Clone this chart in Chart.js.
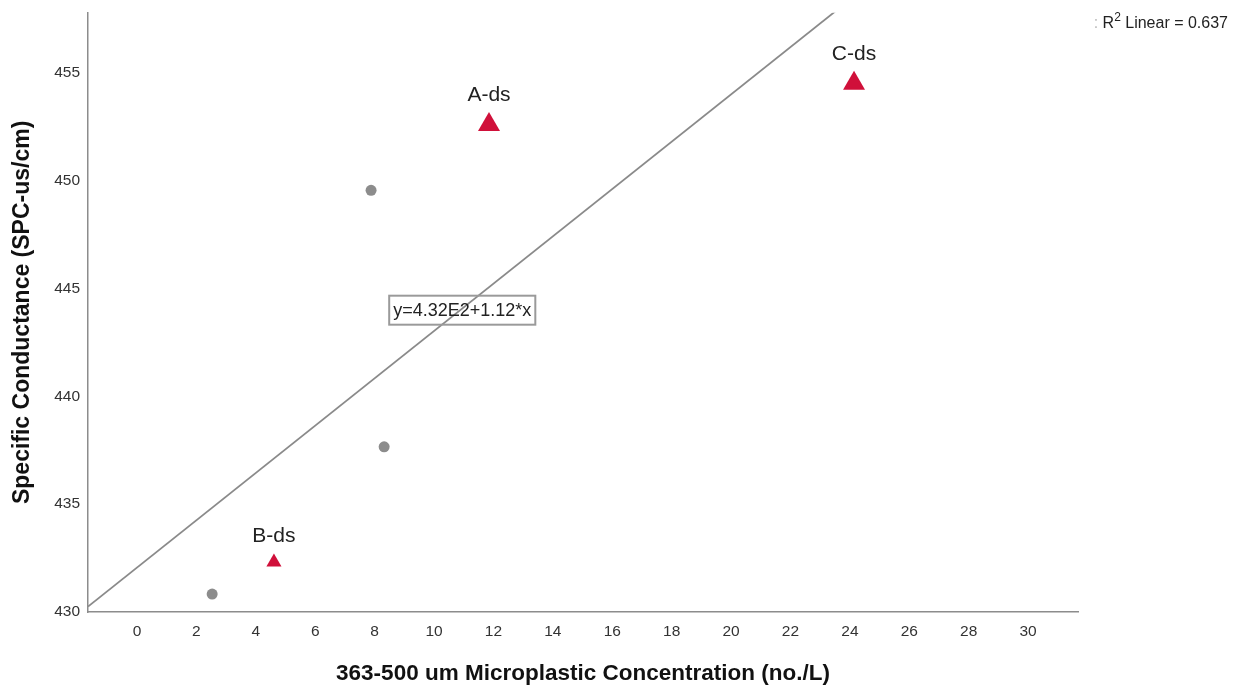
<!DOCTYPE html>
<html>
<head>
<meta charset="utf-8">
<script src="https://cdn.jsdelivr.net/npm/chart.js@4.4.1/dist/chart.umd.min.js"></script>
<style>
  body { margin: 0; background: #fff; }
  #wrap { width: 1240px; height: 688px; position: relative; }
</style>
</head>
<body>
<div id="wrap"><canvas id="scatter"></canvas></div>
<script>
// values
const otherX = [2.53, 7.88, 8.32];
const otherY = [430.83, 449.56, 437.66];
const siteNames = ['A-ds', 'B-ds', 'C-ds'];
const siteX = [11.85, 4.61, 24.14];
const siteY = [452.61, 432.31, 454.52];
const xTicks = [0, 2, 4, 6, 8, 10, 12, 14, 16, 18, 20, 22, 24, 26, 28, 30];
const yTicks = [430, 435, 440, 445, 450, 455];
const fitLabel = 'y=4.32E2+1.12*x';
const r2Value = '0.637';

const xMin = -1.65, xMax = 31.68;
const yMin = 430, yMax = 457.8;

// least squares line through all points
const allX = otherX.concat(siteX);
const allY = otherY.concat(siteY);
const mx = allX.reduce((a, b) => a + b, 0) / allX.length;
const my = allY.reduce((a, b) => a + b, 0) / allY.length;
let sxy = 0, sxx = 0;
allX.forEach((x, i) => { sxy += (x - mx) * (allY[i] - my); sxx += (x - mx) * (x - mx); });
const slope = sxy / sxx;
const intercept = my - slope * mx;

const fontFamily = '"Liberation Sans", Arial, sans-serif';

const annotations = {
    id: 'annotations',
    afterDatasetsDraw(chart) {
        const ctx = chart.ctx;
        const xs = chart.scales.x, ys = chart.scales.y;

        // site labels above the triangles
        const meta = chart.getDatasetMeta(1);
        ctx.save();
        ctx.fillStyle = '#222';
        ctx.font = '21px ' + fontFamily;
        ctx.textAlign = 'center';
        ctx.textBaseline = 'middle';
        meta.data.forEach((pt, i) => {
            const r = pt.options.radius;
            ctx.fillText(siteNames[i], pt.x, pt.y - r - 17);
        });

        // equation box
        const bx = xs.getPixelForValue(10.95);
        const by = ys.getPixelForValue(444.0);
        ctx.font = '18px ' + fontFamily;
        const tw = ctx.measureText(fitLabel).width;
        const bw = tw + 8, bh = 29;
        ctx.strokeStyle = '#9a9a9a';
        ctx.lineWidth = 2;
        ctx.strokeRect(bx - bw / 2, by - bh / 2, bw, bh);
        ctx.fillStyle = '#222';
        ctx.fillText(fitLabel, bx, by + 1);

        // R2 legend, top right
        const right = 1228, ly = 24;
        ctx.textAlign = 'left';
        ctx.font = '16px ' + fontFamily;
        const rest = ' Linear = ' + r2Value;
        const wRest = ctx.measureText(rest).width;
        const wR = ctx.measureText('R').width;
        const wColon = ctx.measureText(': ').width;
        ctx.font = '12px ' + fontFamily;
        const wSup = ctx.measureText('2').width;
        let x0 = right - wRest - wSup - wR - wColon;
        ctx.font = '16px ' + fontFamily;
        ctx.fillStyle = '#bbb';
        ctx.fillText(': ', x0, ly);
        ctx.fillStyle = '#222';
        x0 += wColon;
        ctx.fillText('R', x0, ly);
        x0 += wR;
        ctx.font = '12px ' + fontFamily;
        ctx.fillText('2', x0, ly - 6);
        x0 += wSup;
        ctx.font = '16px ' + fontFamily;
        ctx.fillText(rest, x0, ly);
        ctx.restore();
    }
};

const ctx = document.getElementById('scatter').getContext('2d');
const chart = new Chart(ctx, {
    type: 'scatter',
    data: {
        datasets: [{
            label: 'other',
            data: otherX.map((x, i) => ({ x: x, y: otherY[i] })),
            pointStyle: 'circle',
            pointRadius: 5.5,
            backgroundColor: '#8c8c8c',
            borderColor: '#8c8c8c',
            borderWidth: 0
        }, {
            label: 'sites',
            data: siteX.map((x, i) => ({ x: x, y: siteY[i] })),
            pointStyle: 'triangle',
            pointRadius: [12.7, 8.7, 12.7],
            backgroundColor: '#d0103a',
            borderColor: '#d0103a',
            borderWidth: 0
        }, {
            type: 'line',
            label: 'fit',
            data: [
                { x: xMin, y: intercept + slope * xMin },
                { x: xMax, y: intercept + slope * xMax }
            ],
            borderColor: '#8a8a8a',
            borderWidth: 1.8,
            pointRadius: 0,
            fill: false
        }]
    },
    options: {
        responsive: true,
        maintainAspectRatio: false,
        animation: false,
        layout: { padding: { top: 12, right: 162, left: 0, bottom: 0 } },
        plugins: {
            legend: { display: false },
            tooltip: { enabled: false }
        },
        scales: {
            x: {
                type: 'linear',
                min: xMin,
                max: xMax,
                afterBuildTicks: (scale) => { scale.ticks = xTicks.map(v => ({ value: v })); },
                afterFit: (scale) => {
                    scale.height = 76;
                    scale.paddingLeft = 0;
                    scale.paddingRight = 0;
                },
                grid: { display: false, drawTicks: false },
                border: { display: true, color: '#8c8c8c', width: 1.5 },
                ticks: {
                    padding: 10,
                    color: '#333',
                    font: { family: fontFamily, size: 15.5 },
                    maxRotation: 0,
                    autoSkip: false
                },
                title: {
                    display: true,
                    text: '363-500 um Microplastic Concentration (no./L)',
                    color: '#111',
                    font: { family: fontFamily, size: 22.5, weight: 'bold' },
                    padding: { top: 0, bottom: 1 }
                }
            },
            y: {
                type: 'linear',
                min: yMin,
                max: yMax,
                afterBuildTicks: (scale) => { scale.ticks = yTicks.map(v => ({ value: v })); },
                afterFit: (scale) => {
                    scale.width = 88;
                    scale.paddingTop = 0;
                    scale.paddingBottom = 0;
                },
                grid: { display: false, drawTicks: false },
                border: { display: true, color: '#8c8c8c', width: 1.5 },
                ticks: {
                    padding: 8,
                    color: '#333',
                    font: { family: fontFamily, size: 15.5 },
                    autoSkip: false
                },
                title: {
                    display: true,
                    text: 'Specific Conductance (SPC-us/cm)',
                    color: '#111',
                    font: { family: fontFamily, size: 23, weight: 'bold' },
                    padding: { top: 9, bottom: 0 }
                }
            }
        }
    },
    plugins: [annotations]
});
</script>
</body>
</html>
